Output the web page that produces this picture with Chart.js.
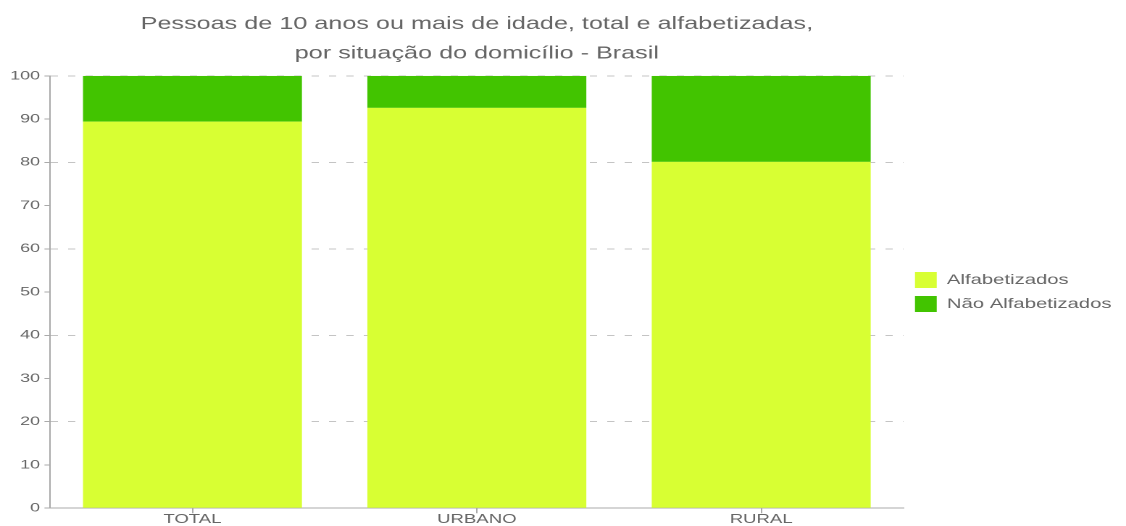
<!DOCTYPE html>
<html>
<head>
<meta charset="utf-8">
<script src="https://cdn.jsdelivr.net/npm/chart.js@4"></script>
<style>
  html, body { margin: 0; padding: 0; background: #fff; overflow: hidden; }
  /* the reference is stretched horizontally, so draw narrow and widen */
  #wrap { width: 777px; height: 526px; transform: scaleX(1.4492); transform-origin: 0 0; }
</style>
</head>
<body>
<div id="wrap"><canvas id="myChart"></canvas></div>
<script>
const categories = ["TOTAL", "URBANO", "RURAL"];
const alfabetizados = [89.4, 92.6, 80.1];
const naoAlfabetizados = [10.6, 7.4, 19.9];
const titleLines = ["Pessoas de 10 anos ou mais de idade, total e alfabetizadas,", "por situação do domicílio - Brasil"];

Chart.defaults.font.family = "'Liberation Sans', Arial, sans-serif";
Chart.defaults.color = "#666";

new Chart("myChart", {
  type: "bar",
  data: {
    labels: categories,
    datasets: [{
      label: "Alfabetizados",
      data: alfabetizados,
      backgroundColor: "#d8ff33",
      borderWidth: 0
    }, {
      label: "Não Alfabetizados",
      data: naoAlfabetizados,
      backgroundColor: "#42c400",
      borderWidth: 0
    }]
  },
  options: {
    responsive: true,
    maintainAspectRatio: false,
    animation: false,
    devicePixelRatio: 2,
    layout: { padding: { left: 4, right: 0, top: 0, bottom: 0 } },
    datasets: { bar: { categoryPercentage: 1, barPercentage: 0.77 } },
    plugins: {
      title: {
        display: true,
        fullSize: false,
        text: titleLines,
        font: { size: 17.4, weight: "normal", lineHeight: 1.72 },
        color: "#666",
        padding: { top: 9, bottom: 7 }
      },
      legend: {
        position: "right",
        fullSize: false,
        labels: { boxWidth: 15, boxHeight: 16, font: { size: 14 }, padding: 8 }
      },
      tooltip: { enabled: false }
    },
    scales: {
      x: {
        stacked: true,
        grid: { drawOnChartArea: false, offset: false, tickLength: 5, color: "#aaa" },
        border: { color: "#aaa" },
        ticks: { font: { size: 12.8, lineHeight: 1.0 }, padding: 0 }
      },
      y: {
        stacked: true,
        min: 0,
        max: 100,
        ticks: { stepSize: 10, font: { size: 12.4 }, padding: 3 },
        border: { color: "#aaa", dash: [5, 7] },
        grid: {
          tickLength: 4,
          tickColor: "#aaa",
          tickBorderDash: [],
          color: function(ctx) {
            const v = ctx.tick ? ctx.tick.value : 0;
            return (v % 20 === 0 && v > 0) ? "#c4c4c4" : "rgba(0,0,0,0)";
          }
        }
      }
    }
  }
});
</script>
</body>
</html>
